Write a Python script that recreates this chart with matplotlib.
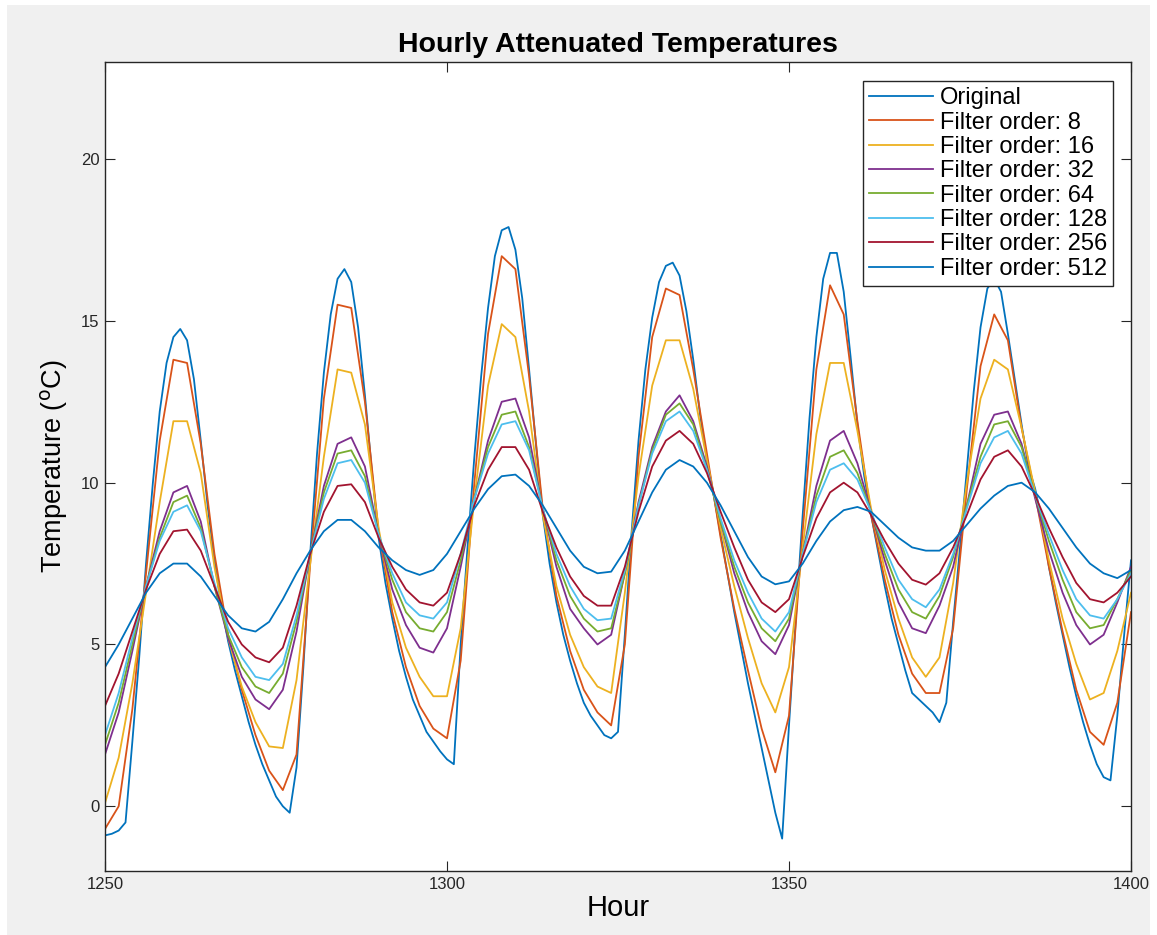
import matplotlib
matplotlib.use('Agg')
import matplotlib.pyplot as plt
from matplotlib.patches import Rectangle

# hourly original series, filtered series read every 2 hours
hours_raw = list(range(1250, 1401))
hours_filt = list(range(1250, 1401, 2))

original = [
    -0.9, -0.85, -0.75, -0.5, 2.0, 4.6, 7.5, 10.0, 12.2, 13.7,
    14.5, 14.75, 14.4, 13.2, 11.3, 9.3, 7.6, 6.2, 5.1, 4.2,
    3.4, 2.6, 1.9, 1.3, 0.8, 0.3, 0.0, -0.2, 1.2, 4.3,
    7.8, 10.9, 13.4, 15.2, 16.3, 16.6, 16.2, 14.8, 12.7, 10.4,
    8.3, 6.9, 5.8, 4.8, 4.0, 3.3, 2.8, 2.3, 2.0, 1.7,
    1.45, 1.3, 5.0, 8.0, 10.8, 13.3, 15.4, 17.0, 17.8, 17.9,
    17.2, 15.7, 13.5, 11.2, 9.0, 7.5, 6.3, 5.3, 4.5, 3.8,
    3.2, 2.8, 2.5, 2.2, 2.1, 2.3, 5.3, 8.5, 11.3, 13.5,
    15.1, 16.2, 16.7, 16.8, 16.4, 15.3, 13.8, 12.1, 10.7, 9.6,
    8.4, 7.2, 6.0, 4.9, 3.8, 2.8, 1.8, 0.8, -0.2, -1.0,
    2.5, 5.8, 9.0, 12.0, 14.5, 16.3, 17.1, 17.1, 15.9, 13.9,
    11.8, 10.2, 9.0, 7.9, 6.8, 5.8, 5.0, 4.2, 3.5, 3.3,
    3.1, 2.9, 2.6, 3.2, 5.7, 8.0, 10.4, 12.8, 14.8, 16.0,
    16.3, 15.9, 14.6, 13.2, 11.8, 10.5, 9.8, 8.8, 7.4, 6.3,
    5.3, 4.3, 3.4, 2.6, 1.9, 1.3, 0.9, 0.8, 2.8, 5.3,
    7.6]

order8 = [
    -0.7, 0.0, 3.0, 7.2, 11.3, 13.8, 13.7, 11.2, 7.8, 5.3,
    3.6, 2.2, 1.1, 0.5, 1.6, 7.5, 12.6, 15.5, 15.4, 12.5,
    8.5, 6.0, 4.3, 3.1, 2.4, 2.1, 4.5, 10.0, 14.6, 17.0,
    16.6, 13.3, 9.2, 6.5, 4.8, 3.6, 2.9, 2.5, 5.0, 10.8,
    14.5, 16.0, 15.8, 13.5, 10.9, 8.3, 6.1, 4.2, 2.4, 1.05,
    2.8, 8.5, 13.5, 16.1, 15.2, 11.9, 9.0, 7.0, 5.3, 4.1,
    3.5, 3.5, 5.5, 9.8, 13.6, 15.2, 14.4, 11.7, 9.6, 7.4,
    5.4, 3.6, 2.3, 1.9, 3.2, 6.0]

order16 = [
    0.1, 1.5, 3.8, 6.6, 9.4, 11.9, 11.9, 10.3, 7.4, 5.2,
    3.7, 2.6, 1.85, 1.8, 3.9, 7.5, 10.8, 13.5, 13.4, 11.8,
    8.6, 6.3, 4.9, 4.0, 3.4, 3.4, 5.5, 9.5, 13.0, 14.9,
    14.5, 12.2, 9.0, 6.8, 5.3, 4.3, 3.7, 3.5, 6.6, 10.2,
    13.0, 14.4, 14.4, 12.9, 10.7, 8.6, 6.8, 5.2, 3.8, 2.9,
    4.3, 8.0, 11.5, 13.7, 13.7, 11.6, 9.2, 7.3, 5.8, 4.6,
    4.0, 4.6, 6.9, 10.0, 12.6, 13.8, 13.5, 11.7, 9.7, 7.6,
    5.8, 4.4, 3.3, 3.5, 4.8, 6.6]

order32 = [
    1.6, 2.9, 4.8, 6.8, 8.5, 9.7, 9.9, 8.8, 6.8, 5.2,
    4.0, 3.3, 3.0, 3.6, 5.4, 7.8, 9.9, 11.2, 11.4, 10.5,
    8.4, 6.7, 5.6, 4.9, 4.75, 5.5, 7.4, 9.5, 11.3, 12.5,
    12.6, 11.4, 9.2, 7.4, 6.1, 5.5, 5.0, 5.3, 7.2, 9.4,
    11.1, 12.2, 12.7, 11.9, 10.5, 8.8, 7.2, 6.0, 5.1, 4.7,
    5.6, 7.8, 9.9, 11.3, 11.6, 10.6, 9.1, 7.6, 6.3, 5.5,
    5.35, 6.2, 7.4, 9.3, 11.2, 12.1, 12.2, 11.2, 9.5, 7.9,
    6.6, 5.6, 5.0, 5.3, 6.3, 7.4]

order64 = [
    1.9, 3.2, 5.0, 6.8, 8.3, 9.4, 9.6, 8.6, 6.8, 5.3,
    4.3, 3.7, 3.5, 4.1, 5.7, 7.8, 9.7, 10.9, 11.0, 10.2,
    8.4, 7.0, 6.0, 5.5, 5.4, 6.0, 7.6, 9.5, 11.1, 12.1,
    12.2, 11.1, 9.2, 7.6, 6.5, 5.8, 5.4, 5.5, 7.2, 9.3,
    11.0, 12.1, 12.45, 11.8, 10.4, 8.8, 7.4, 6.3, 5.5, 5.1,
    5.8, 7.8, 9.6, 10.8, 11.0, 10.3, 9.1, 7.8, 6.7, 6.0,
    5.8, 6.5, 7.7, 9.3, 10.8, 11.8, 11.9, 11.1, 9.6, 8.2,
    7.0, 6.0, 5.5, 5.6, 6.4, 7.3]

order128 = [
    2.2, 3.5, 5.2, 6.8, 8.2, 9.1, 9.3, 8.5, 6.9, 5.5,
    4.6, 4.0, 3.9, 4.4, 5.9, 7.8, 9.5, 10.6, 10.7, 10.0,
    8.4, 7.2, 6.3, 5.9, 5.8, 6.3, 7.8, 9.5, 10.9, 11.8,
    11.9, 11.0, 9.2, 7.8, 6.8, 6.1, 5.75, 5.8, 7.3, 9.3,
    10.9, 11.9, 12.2, 11.6, 10.4, 8.9, 7.6, 6.6, 5.8, 5.4,
    6.0, 7.8, 9.4, 10.4, 10.6, 10.1, 9.1, 8.0, 7.0, 6.4,
    6.15, 6.7, 7.8, 9.2, 10.6, 11.4, 11.6, 10.9, 9.6, 8.4,
    7.3, 6.4, 5.9, 5.8, 6.4, 7.2]

order256 = [
    3.1, 4.1, 5.4, 6.7, 7.8, 8.5, 8.55, 7.9, 6.8, 5.7,
    5.0, 4.6, 4.45, 4.9, 6.2, 7.8, 9.1, 9.9, 9.95, 9.4,
    8.3, 7.4, 6.7, 6.3, 6.2, 6.6, 7.8, 9.3, 10.4, 11.1,
    11.1, 10.4, 9.1, 8.0, 7.1, 6.5, 6.2, 6.2, 7.4, 9.1,
    10.5, 11.3, 11.6, 11.2, 10.3, 9.1, 8.0, 7.0, 6.3, 6.0,
    6.4, 7.7, 8.9, 9.7, 10.0, 9.7, 9.0, 8.2, 7.5, 7.0,
    6.85, 7.2, 8.0, 9.0, 10.1, 10.8, 11.0, 10.5, 9.6, 8.6,
    7.7, 6.9, 6.4, 6.3, 6.6, 7.1]

order512 = [
    4.3, 5.0, 5.8, 6.6, 7.2, 7.5, 7.5, 7.1, 6.5, 5.9,
    5.5, 5.4, 5.7, 6.4, 7.2, 7.9, 8.5, 8.85, 8.85, 8.5,
    8.0, 7.6, 7.3, 7.15, 7.3, 7.8, 8.5, 9.2, 9.8, 10.2,
    10.25, 9.9, 9.3, 8.6, 7.9, 7.4, 7.2, 7.25, 7.9, 8.8,
    9.7, 10.4, 10.7, 10.5, 10.0, 9.3, 8.5, 7.7, 7.1, 6.86,
    6.95, 7.5, 8.2, 8.8, 9.15, 9.25, 9.1, 8.7, 8.3, 8.0,
    7.9, 7.9, 8.2, 8.7, 9.2, 9.6, 9.9, 10.0, 9.7, 9.2,
    8.6, 8.0, 7.5, 7.2, 7.05, 7.3]

filtered = [order8, order16, order32, order64, order128, order256, order512]
filter_labels = ['Filter order: 8', 'Filter order: 16', 'Filter order: 32',
                 'Filter order: 64', 'Filter order: 128', 'Filter order: 256',
                 'Filter order: 512']
colors = ['#D95319', '#EDB120', '#7E2F8E', '#77AC30', '#4DBEEE', '#A2142F', '#0072BD']

plt.rcParams['font.family'] = ['Liberation Sans', 'DejaVu Sans']

W, H = 1157, 935
fig = plt.figure(figsize=(W / 100, H / 100), dpi=100)
fig.patch.set_facecolor('white')
fig.add_artist(Rectangle((7 / W, 0), (W - 14) / W, (H - 5) / H, transform=fig.transFigure,
                         facecolor='#f0f0f0', edgecolor='none', zorder=-10))

ax = fig.add_axes([105 / W, 64 / H, 1026 / W, 809 / H])
ax.plot(hours_raw, original, color='#0072BD', lw=1.3, label='Original')
for vals, c, lab in zip(filtered, colors, filter_labels):
    ax.plot(hours_filt, vals, color=c, lw=1.3, label=lab)

ax.set_xlim(1250, 1400)
ax.set_ylim(-2, 23)
ax.set_xticks([1250, 1300, 1350, 1400])
ax.set_yticks([0, 5, 10, 15, 20])
ax.tick_params(direction='in', length=7, width=0.8, top=True, right=True,
               labelsize=12, colors='#262626', pad=4)
for s in ax.spines.values():
    s.set_color('#262626')
    s.set_linewidth(1.0)

ax.set_title('Hourly Attenuated Temperatures', fontsize=20.5, fontweight='bold', pad=7)
ax.set_xlabel('Hour', fontsize=21, labelpad=2)
ax.set_ylabel('Temperature ($^{\\mathrm{o}}$C)', fontsize=19.5, labelpad=8)

leg = ax.legend(loc='upper right', bbox_to_anchor=(0.9825, 0.976), fontsize=17,
                labelspacing=0.1, handlelength=2.7, handletextpad=0.3,
                borderpad=0.25, borderaxespad=0.0, fancybox=False, framealpha=1)
leg.get_frame().set_edgecolor('#262626')
leg.get_frame().set_linewidth(1.0)

fig.savefig('out.png', dpi=100, facecolor=fig.get_facecolor())
